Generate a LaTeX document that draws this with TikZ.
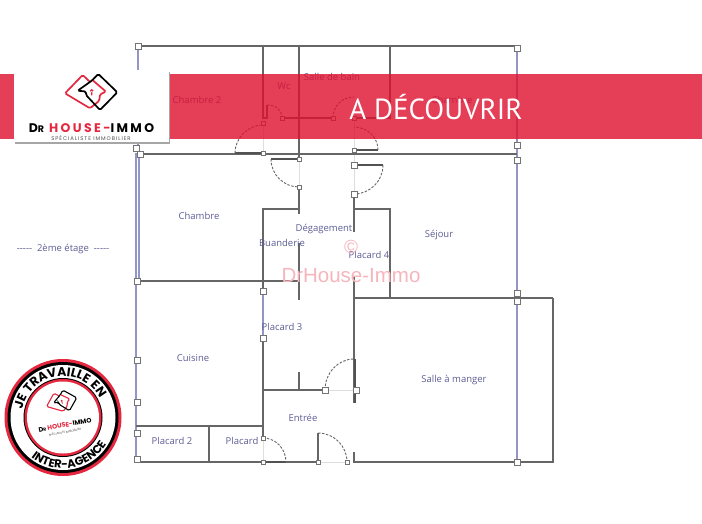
\documentclass[tikz,border=0pt]{standalone}
\usepackage{fontspec}
\setmainfont{Open Sans}
\newfontfamily\logofont{Poppins}
\newfontfamily\bannerfont{PT Sans}
\newfontfamily\markfont{Liberation Sans}
\usetikzlibrary{decorations.text}
\definecolor{wallgray}{HTML}{666666}
\definecolor{bandred}{HTML}{DF0F2D}
\definecolor{brandred}{HTML}{E5283F}
\definecolor{labelblue}{HTML}{5C5C94}
\definecolor{frameblue}{HTML}{9395C6}
\tikzset{
	wall/.style={draw=wallgray, line width=2.2pt},
	thinwall/.style={draw=wallgray, line width=1.7pt},
	leaf/.style={draw=wallgray!80!black, line width=2.2pt},
	swing/.style={draw=wallgray, line width=.9pt, dash pattern=on 2.5pt off 1.5pt},
	ghost/.style={draw=black!13, line width=.5pt},
	frame/.style={draw=frameblue, line width=2.6pt},
	handle/.style={draw=black!55, fill=white, rectangle, inner sep=0pt, minimum size=6pt, line width=.8pt},
	knob/.style={handle, minimum size=4pt},
	room/.style={text=labelblue, font=\fontsize{9.5}{11}\selectfont, inner sep=0pt},
	pics/housemark/.style={code={
		\draw[y=-1pt, brandred, line width=#1, rounded corners=1.5pt] (2,-12) -- (15,-.8) -- (9,1.8) -- (8.3,8.2) -- (-1,15.8) -- (-26,.8) -- (-8.3,-17.5) -- (-1,-10.5);
		\draw[y=-1pt, black, line width=#1, rounded corners=1.5pt] (-13.3,-1.8) -- (1,-12) -- (7.3,-18.5) -- (26.3,-.2) -- (9,17.5) -- (-5,2.5) -- (-5,-1) -- cycle;
		\fill[y=-1pt, brandred] (.7,-1.8) circle (1.8) (0,-1.5) rectangle (1.4,3);
	}}
}
\begin{document}
\begin{tikzpicture}[x=1pt, y=-1pt]
	\useasboundingbox (0,0) rectangle (702,524);
	% frame lines
	\draw[frame] (138,46) -- (138,153);
	\draw[frame] (136,153) -- (136,462);
	\draw[frame] (139,154) -- (139,281);
	\draw[frame] (517,46) -- (517,462);
	\draw[frame] (263,291) -- (263,338);
	% ghost lines
	\draw[ghost] (263,123) -- (263,153);
	\draw[ghost] (299,159) -- (299,187);
	\draw[ghost] (354,118) -- (354,194);
	\draw[ghost] (325,390) -- (356,390);
	\draw[ghost] (263,438) -- (263,462);
	\draw[ghost] (318,462) -- (347,462);
	% walls
	\draw[thinwall] (139,46) -- (517,46);
	\draw[thinwall] (139,154) -- (517,154);
	\draw[wall] (263,46) -- (263,118) -- (267,118) -- (267,105);
	\draw[wall] (282,118) -- (333,118);
	\draw[wall] (299,46) -- (299,159);
	\draw[wall] (390,46) -- (390,118) -- (354,118);
	\draw[wall] (299,187) -- (299,214);
	\draw[wall] (299,209) -- (263,209) -- (263,291);
	\draw[wall] (354,194) -- (354,232);
	\draw[wall] (354,209) -- (390,209) -- (390,298);
	\draw[wall] (139,281) -- (263,281);
	\draw[wall] (263,281) -- (299,281);
	\draw[wall] (299,243) -- (299,300);
	\draw[wall] (354,277) -- (354,403);
	\draw[thinwall] (354,298) -- (553,298);
	\draw[wall] (553,298) -- (553,462) -- (354,462) -- (354,452);
	\draw[wall] (263,338) -- (263,438);
	\draw[wall] (263,390) -- (325,390);
	\draw[wall] (299,372) -- (299,390);
	\draw[wall] (136,426) -- (263,426);
	\draw[wall] (209,426) -- (209,462);
	\draw[thinwall] (136,462) -- (318,462);
	\draw[wall] (318,433) -- (318,462);
	% door leaves
	\draw[leaf] (235,153) -- (263,153);
	\draw[leaf] (271,159) -- (299,159);
	\draw[leaf] (354,150) -- (378,150);
	\draw[leaf] (354,165) -- (383,165);
	\draw[leaf] (355,359) -- (355,403);
	\draw[leaf] (263,462) -- (286,462);
	% door swings
	\draw[swing] (267,105) .. controls (276,105) and (282,110) .. (282,118);
	\draw[swing] (333,118) .. controls (333,106) and (342,97) .. (354,97);
	\draw[swing] (235,153) .. controls (235,138) and (248,125) .. (263,125);
	\draw[swing] (271,159) .. controls (271,175) and (284,187) .. (299,187);
	\draw[swing] (378,150) .. controls (378,137) and (367,127) .. (354,127);
	\draw[swing] (383,165) .. controls (383,181) and (370,194) .. (354,194);
	\draw[swing] (325,390) .. controls (325,373) and (338,359) .. (354,359);
	\draw[swing] (263,438) .. controls (276,438) and (286,449) .. (286,462);
	\draw[swing] (318,433) .. controls (334,433) and (347,446) .. (347,462);
	% corner handles
	\foreach \hx/\hy/\hname in {138/46/a, 136/148/b, 140/154/c, 137/281/d, 137/360/e, 137/402/f, 137/433/g, 137/459/h, 517/48/i, 517/145/j, 517/160/k, 517/293/l, 517/301/m, 517/462/n, 263/291/o, 263/338/p, 354/165/q, 354/194/r, 325/390/s, 356/390/t}
		\node[handle] (handle\hname) at (\hx,\hy) {};
	\foreach \kx/\ky/\kname in {263/123/a, 263/153/b, 299/159/c, 299/187/d, 354/150/e, 354/118/f, 263/438/g, 263/462/h, 318/462/i, 347/462/j, 282/118/k, 333/118/l}
		\node[knob] (knob\kname) at (\kx,\ky) {};
	% rooms
	\node[room] (chambretwo) at (197,100) {Chambre 2};
	\node[room] (wc) at (284,86) {Wc};
	\node[room] (salledebain) at (332,77) {Salle de bain};
	\node[room] (chambreone) at (452,100) {Chambre};
	\node[room] (chambre) at (199,216) {Chambre};
	\node[room] (degagement) at (324,229) {Dégagement};
	\node[room] (buanderie) at (282,243) {Buanderie};
	\node[room] (placardfour) at (369,255) {Placard 4};
	\node[room] (sejour) at (439,235) {Séjour};
	\node[room] (placardthree) at (282,327) {Placard 3};
	\node[room] (cuisine) at (193,358) {Cuisine};
	\node[room] (salleamanger) at (454,380) {Salle à manger};
	\node[room] (entree) at (303,418) {Entrée};
	\node[room] (placardtwo) at (172,441) {Placard 2};
	\node[room] (placard) at (242,441) {Placard};
	\node[room] (etage) at (63,249) {-{}-{}-{}-{}-  \ 2ème étage \ -{}-{}-{}-{}-};
	% watermark
	\node[inner sep=0pt, text=brandred!35, font=\markfont\fontsize{19}{21}\selectfont] (copymark) at (351,247) {©};
	\node[inner sep=0pt, text=brandred!35, font=\markfont\fontsize{20.5}{22}\selectfont] (watermark) at (351,276) {DrHouse-Immo};
	% banner
	\fill[bandred, opacity=.8] (0,74) rectangle (702,139);
	\node[inner sep=0pt, text=white, font=\bannerfont\fontsize{29}{32}\selectfont] (banner) at (436,107) {A DÉCOUVRIR};
	% logo box
	\fill[black!35] (14.5,72) rectangle (169.5,144);
	\node[fill=white, minimum width=155pt, minimum height=72.5pt, inner sep=0pt] (logobox) at (91.5,106.2) {};
	\pic at (91,92.5) {housemark=1.7pt};
	\node[inner sep=0pt, font=\logofont\bfseries\addfontfeature{LetterSpace=19}\fontsize{12.5}{14}\selectfont] (logotext) at (91.5,128) {D{\fontsize{9.5}{11}\selectfont R} \textcolor{brandred}{HOUSE-}IMMO};
	\node[inner sep=0pt, text=black!70, font=\logofont\addfontfeature{LetterSpace=18}\fontsize{5.3}{6}\selectfont] (logosub) at (91,138.5) {SPÉCIALISTE IMMOBILIER};
	% badge
	\begin{scope}[shift={(63,417.5)}, x=1pt, y=1pt]
		\fill[brandred] (0,0) circle (58.5pt);
		\fill[black] (0,0) circle (55.5pt);
		\fill[white] (0,0) circle (52.5pt);
		\fill[black] (0,0) circle (39.5pt);
		\fill[brandred] (0,0) circle (38.5pt);
		\fill[white] (0,0) circle (36pt);
		\path[postaction={decorate}, decoration={text along path, text align=center, text={|\logofont\bfseries\addfontfeature{LetterSpace=6}\fontsize{12.5}{13}\selectfont|JE TRAVAILLE EN}}] (178:41.5pt) arc[start angle=178, end angle=18, radius=41.5pt];
		\path[postaction={decorate}, decoration={text along path, text align=center, text={|\logofont\bfseries\fontsize{11.5}{12}\selectfont|INTER-AGENCE}}] (-150:51pt) arc[start angle=-150, end angle=-10, radius=51pt];
		\pic[scale=.6, rotate=15] at (-1.5,15.5) {housemark=1.1pt};
		\node[inner sep=0pt, rotate=11, font=\logofont\bfseries\fontsize{6.5}{7}\selectfont] (badgetext) at (2,-7.5) {D{\fontsize{4.5}{5}\selectfont R} \textcolor{brandred}{HOUSE-}IMMO};
		\node[inner sep=0pt, rotate=11, text=black!70, font=\logofont\fontsize{2.9}{3}\selectfont] (badgesub) at (2,-14.5) {SPÉCIALISTE IMMOBILIER};
	\end{scope}
\end{tikzpicture}
\end{document}
